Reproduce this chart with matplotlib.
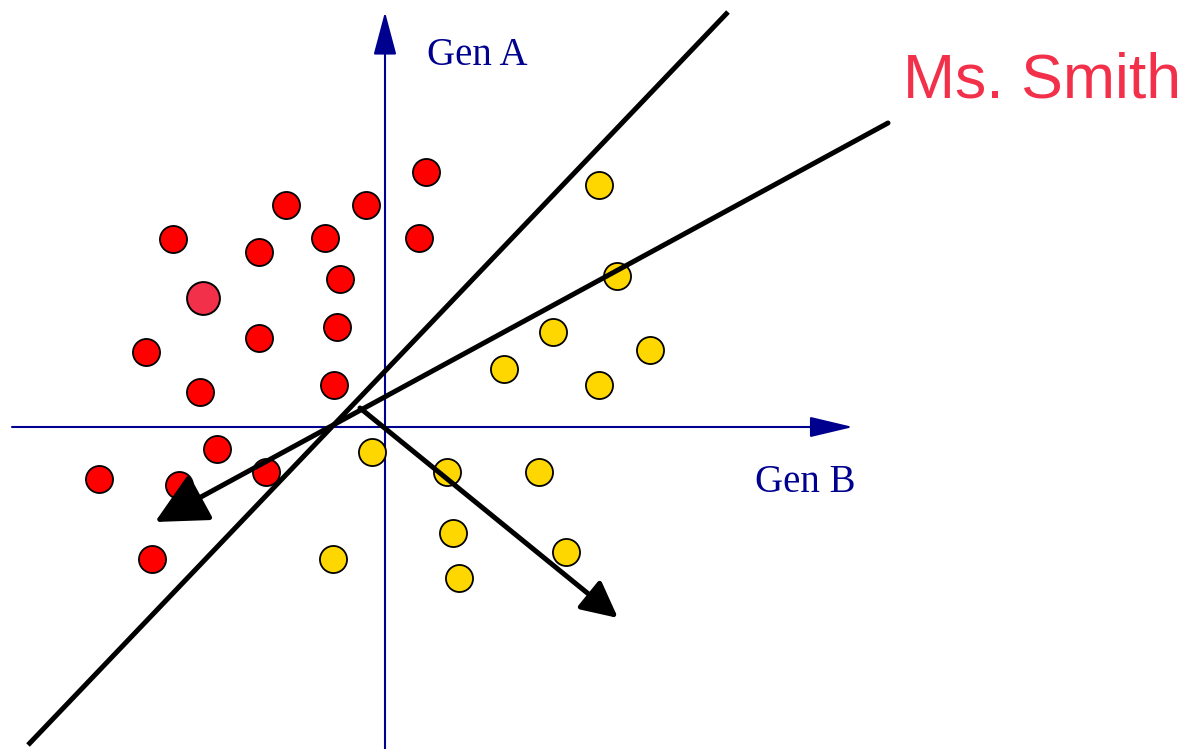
import matplotlib.pyplot as plt

# red group (Gen A high / Gen B low)
red_x = [426, 286, 366, 173, 259, 325, 419, 340, 337, 259, 146, 200, 334, 217, 99, 179, 266, 152]
red_y = [172, 205, 205, 239, 252, 238, 238, 279, 327, 338, 352, 392, 385, 449, 479, 485, 472, 559]

# yellow group
yel_x = [599, 617, 553, 650, 504, 599, 372, 447, 539, 453, 566, 333, 459]
yel_y = [185, 276, 332, 350, 369, 385, 452, 472, 472, 533, 552, 559, 578]

# new sample
smith_x, smith_y = 203, 298

fig = plt.figure(figsize=(11.93, 7.49), dpi=100)
ax = fig.add_axes([0, 0, 1, 1])
ax.set_xlim(0, 1193)
ax.set_ylim(749, 0)
ax.axis('off')

navy = '#00008f'
# axes with arrow heads
ax.annotate('', xy=(853, 427), xytext=(12, 427),
            arrowprops=dict(arrowstyle='-|>,head_length=1.35,head_width=0.32', mutation_scale=20,
                            color=navy, lw=1.5, shrinkA=0, shrinkB=0), zorder=1)
ax.annotate('', xy=(385, 12), xytext=(385, 749),
            arrowprops=dict(arrowstyle='-|>,head_length=1.35,head_width=0.36', mutation_scale=20,
                            color=navy, lw=1.5, shrinkA=0, shrinkB=0), zorder=1)
ax.text(427, 65, 'Gen A', fontsize=28, family='Liberation Serif', color=navy, va='baseline')
ax.text(755, 492, 'Gen B', fontsize=28, family='Liberation Serif', color=navy, va='baseline')

ax.scatter(red_x, red_y, s=380, c='#ff0000', edgecolors='black', linewidths=1.3, zorder=3)
ax.scatter(yel_x, yel_y, s=380, c='#ffd700', edgecolors='black', linewidths=1.3, zorder=3)
ax.scatter([smith_x], [smith_y], s=560, c='#f2304a', edgecolors='black', linewidths=1.4, zorder=3)

# separating lines
ax.plot([28, 728], [745, 12], color='black', lw=3.6, solid_capstyle='butt', zorder=4)
ax.annotate('', xy=(155, 522), xytext=(888, 123),
            arrowprops=dict(arrowstyle='-|>,head_length=1.6,head_width=0.8', mutation_scale=20,
                            color='black', lw=3.6, shrinkA=0, shrinkB=0), zorder=4)
ax.annotate('', xy=(618, 618), xytext=(360, 408),
            arrowprops=dict(arrowstyle='-|>,head_length=1.1,head_width=0.55', mutation_scale=20,
                            color='black', lw=3.6, shrinkA=0, shrinkB=0), zorder=4)

ax.text(903, 98, 'Ms. Smith', fontsize=45, family='Liberation Sans', color='#f2304a', va='baseline')

fig.savefig('out.png', dpi=100)
